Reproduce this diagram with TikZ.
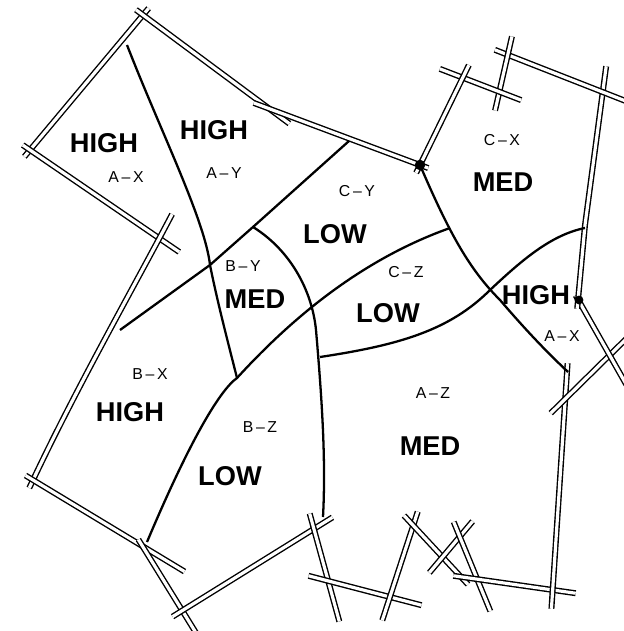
\documentclass[tikz,border=0pt]{standalone}
\usepackage{fontspec}
\setsansfont{Liberation Sans}
\usepackage{tikz}

\begin{document}
\begin{tikzpicture}[x=0.02cm, y=-0.02cm,
    wall/.style={double, double distance=1.8pt, line width=0.8pt, shorten <=-5pt, shorten >=-5pt},
    divide/.style={line width=1.3pt},
    grade/.style={font=\sffamily\bfseries\fontsize{15.5}{16}\selectfont},
    code/.style={font=\sffamily\fontsize{9}{10}\selectfont}]
    \clip (0,0) rectangle (624,631);
    % outer walls
    \draw[wall] (143,15) -- (30,150);
    \draw[wall] (30,150) -- (172,247);
    \draw[wall] (168,222) .. controls (135,285) and (75,390) .. (33,480);
    \draw[wall] (33,480) -- (177,567);
    \draw[wall] (143,547) -- (193,628);
    \draw[wall] (180,612) -- (325,522);
    \draw[wall] (312,522) -- (337,613);
    \draw[wall] (317,578) -- (413,603);
    \draw[wall] (385,612) -- (415,520);
    \draw[wall] (410,522) -- (462,578);
    \draw[wall] (435,566) -- (467,528);
    \draw[wall] (457,530) -- (487,603);
    \draw[wall] (462,577) -- (567,592);
    \draw[wall] (552,600) -- (567,372);
    \draw[wall] (557,407) -- (622,343);
    \draw[wall] (580,303) -- (622,377);
    \draw[wall] (605,75) -- (585,225) -- (578,300);
    \draw[wall] (503,53) -- (623,100);
    \draw[wall] (510,45) -- (497,102);
    \draw[wall] (448,72) -- (513,97);
    \draw[wall] (465,73) -- (420,165);
    \draw[wall, shorten >=-13pt] (143,15) -- (271,110);
    \draw[wall] (262,106) -- (420,165);
    \fill (420,165) circle (3pt);
    \fill (579,300) circle (2.5pt);
    % dividing lines
    \draw[divide] (127,45) .. controls (160,130) and (205,220) .. (210,265)
        .. controls (218,305) and (230,350) .. (237,378);
    \draw[divide] (349,141) -- (253,227) -- (210,265) -- (120,330);
    \draw[divide] (253,227) .. controls (290,250) and (312,290) .. (316,330)
        .. controls (322,400) and (326,460) .. (323,517);
    \draw[divide] (147,542) .. controls (190,440) and (220,390) .. (237,378)
        .. controls (290,320) and (360,260) .. (450,228);
    \draw[divide] (320,357) .. controls (400,345) and (450,330) .. (490,290)
        .. controls (520,262) and (550,235) .. (585,228);
    \draw[divide] (420,165) .. controls (450,235) and (470,270) .. (500,300)
        .. controls (530,335) and (550,355) .. (568,372);
    % labels
    \node[grade] (hax) at (104,143) {HIGH};
    \node[code] (cax) at (126,177) {A\,–\,X};
    \node[grade] (hay) at (214,130) {HIGH};
    \node[code] (cay) at (224,173) {A\,–\,Y};
    \node[code] (ccy) at (357,191) {C\,–\,Y};
    \node[grade] (lcy) at (335,234) {LOW};
    \node[code] (ccx) at (502,140) {C\,–\,X};
    \node[grade] (mcx) at (503,182) {MED};
    \node[code] (cby) at (243,266) {B\,–\,Y};
    \node[grade] (mby) at (255,299) {MED};
    \node[code] (ccz) at (406,272) {C\,–\,Z};
    \node[grade] (lcz) at (388,313) {LOW};
    \node[grade] (hax2) at (536,295) {HIGH};
    \node[code] (cax2) at (562,336) {A\,–\,X};
    \node[code] (cbx) at (150,374) {B\,–\,X};
    \node[grade] (hbx) at (130,412) {HIGH};
    \node[code] (cbz) at (260,427) {B\,–\,Z};
    \node[grade] (lbz) at (230,476) {LOW};
    \node[code] (caz) at (433,393) {A\,–\,Z};
    \node[grade] (maz) at (430,446) {MED};
\end{tikzpicture}
\end{document}
